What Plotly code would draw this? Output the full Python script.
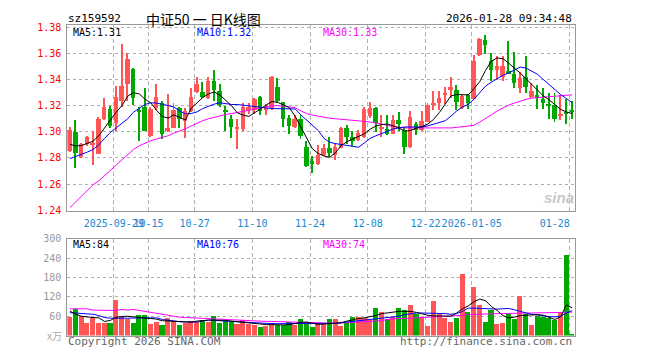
import plotly.graph_objects as go

dates = ["2025-09-17","2025-09-18","2025-09-19","2025-09-22","2025-09-23","2025-09-24","2025-09-25","2025-09-26","2025-09-29","2025-09-30",
"2025-10-09","2025-10-10","2025-10-13","2025-10-14","2025-10-15","2025-10-16","2025-10-17","2025-10-20","2025-10-21","2025-10-22","2025-10-23","2025-10-24",
"2025-10-27","2025-10-28","2025-10-29","2025-10-30","2025-10-31","2025-11-03","2025-11-04","2025-11-05","2025-11-06","2025-11-07",
"2025-11-10","2025-11-11","2025-11-12","2025-11-13","2025-11-14","2025-11-17","2025-11-18","2025-11-19","2025-11-20","2025-11-21",
"2025-11-24","2025-11-25","2025-11-26","2025-11-27","2025-11-28","2025-12-01","2025-12-02","2025-12-03","2025-12-04","2025-12-05",
"2025-12-08","2025-12-09","2025-12-10","2025-12-11","2025-12-12","2025-12-15","2025-12-16","2025-12-17","2025-12-18","2025-12-19",
"2025-12-22","2025-12-23","2025-12-24","2025-12-25","2025-12-26","2025-12-29","2025-12-30","2025-12-31",
"2026-01-05","2026-01-06","2026-01-07","2026-01-08","2026-01-09","2026-01-12","2026-01-13","2026-01-14","2026-01-15","2026-01-16",
"2026-01-19","2026-01-20","2026-01-21","2026-01-22","2026-01-23","2026-01-26","2026-01-27","2026-01-28"]

opens = [1.2848,1.2995,1.2804,1.2907,1.2902,1.2829,1.3098,1.3172,1.3062,1.3234,
 1.3364,1.3480,1.3160,1.3185,1.2963,1.3177,1.3221,1.3005,1.3030,1.3177,
 1.3079,1.3155,1.3300,1.3300,1.3258,1.3386,1.3308,1.3155,1.3093,1.3025,
 1.3017,1.3167,1.3167,1.3266,1.3167,1.3177,1.3340,1.3226,1.3103,1.3037,
 1.3098,1.2882,1.2771,1.2749,1.2823,1.2877,1.2823,1.2877,1.3030,1.2956,
 1.2938,1.2960,1.3119,1.3180,1.3025,1.3016,1.2984,1.3087,1.3012,1.2882,
 1.3060,1.3010,1.3074,1.3202,1.3221,1.3285,1.3315,1.3320,1.3177,1.3276,
 1.3251,1.3585,1.3701,1.3536,1.3467,1.3418,1.3460,1.3443,1.3332,1.3418,
 1.3261,1.3281,1.3249,1.3204,1.3200,1.3124,1.3141,1.3155]
highs = [1.3037,1.3086,1.2915,1.2962,1.3000,1.3110,1.3258,1.3196,1.3344,1.3667,
 1.3603,1.3485,1.3185,1.3332,1.3185,1.3364,1.3234,1.3283,1.3216,1.3185,
 1.3177,1.3332,1.3413,1.3381,1.3418,1.3467,1.3364,1.3192,1.3128,1.3098,
 1.3221,1.3221,1.3258,1.3270,1.3209,1.3423,1.3406,1.3229,1.3123,1.3123,
 1.3123,1.2926,1.2815,1.2897,1.2907,1.2956,1.2914,1.3037,1.3049,1.3000,
 1.3012,1.3190,1.3222,1.3185,1.3123,1.3125,1.3125,1.3145,1.3037,1.3153,
 1.3074,1.3160,1.3221,1.3308,1.3308,1.3340,1.3418,1.3357,1.3276,1.3283,
 1.3583,1.3718,1.3738,1.3603,1.3578,1.3578,1.3694,1.3610,1.3455,1.3578,
 1.3372,1.3354,1.3330,1.3293,1.3293,1.3280,1.3250,1.3234]
lows = [1.2840,1.2718,1.2798,1.2890,1.2743,1.2824,1.3086,1.3030,1.3005,1.3185,
 1.3234,1.3202,1.2926,1.3000,1.2956,1.3167,1.2946,1.2995,1.3025,1.3030,
 1.2950,1.3148,1.3295,1.3258,1.3246,1.3234,1.3185,1.3007,1.2951,1.2865,
 1.3007,1.3135,1.3135,1.3123,1.3123,1.3167,1.3221,1.3037,1.2980,1.3025,
 1.2946,1.2730,1.2680,1.2742,1.2815,1.2803,1.2784,1.2872,1.2902,1.2889,
 1.2926,1.2950,1.3100,1.2996,1.2956,1.2975,1.2980,1.3000,1.2825,1.2875,
 1.2975,1.3005,1.3069,1.3167,1.3167,1.3209,1.3258,1.3167,1.3172,1.3172,
 1.3246,1.3578,1.3590,1.3389,1.3394,1.3389,1.3443,1.3332,1.3295,1.3295,
 1.3255,1.3170,1.3170,1.3092,1.3073,1.3085,1.3060,1.3098]
closes = [1.3012,1.2835,1.2907,1.2956,1.2910,1.3098,1.3185,1.3040,1.3266,1.3344,
 1.3554,1.3258,1.3150,1.3007,1.3172,1.3266,1.2980,1.3030,1.3167,1.3098,
 1.3155,1.3266,1.3362,1.3266,1.3386,1.3315,1.3202,1.3150,1.3032,1.3030,
 1.3185,1.3185,1.3251,1.3155,1.3177,1.3418,1.3234,1.3098,1.3042,1.3093,
 1.2963,1.2737,1.2754,1.2823,1.2877,1.2833,1.2882,1.3030,1.2958,1.2926,
 1.2988,1.3170,1.3180,1.3065,1.3032,1.2984,1.3087,1.3060,1.2882,1.3114,
 1.3010,1.3080,1.3200,1.3221,1.3258,1.3290,1.3340,1.3226,1.3271,1.3221,
 1.3536,1.3709,1.3659,1.3467,1.3504,1.3499,1.3443,1.3369,1.3411,1.3340,
 1.3310,1.3256,1.3220,1.3200,1.3092,1.3127,1.3136,1.3150]

ma5 = [1.2905,1.2892,1.2895,1.2910,1.2928,1.2970,1.3030,1.3090,1.3150,1.3200,
 1.3272,1.3300,1.3290,1.3250,1.3222,1.3165,1.3118,1.3105,1.3130,1.3110,
 1.3090,1.3180,1.3225,1.3262,1.3290,1.3305,1.3280,1.3240,1.3200,1.3145,
 1.3128,1.3118,1.3150,1.3175,1.3205,1.3232,1.3225,1.3208,1.3185,1.3120,
 1.3040,1.2950,1.2870,1.2835,1.2815,1.2805,1.2840,1.2895,1.2925,1.2945,
 1.2965,1.2985,1.3020,1.3045,1.3055,1.3060,1.3045,1.3030,1.3005,1.3010,
 1.3028,1.3040,1.3060,1.3095,1.3148,1.3215,1.3275,1.3285,1.3285,1.3283,
 1.3330,1.3385,1.3470,1.3540,1.3565,1.3560,1.3525,1.3488,1.3450,1.3406,
 1.3362,1.3320,1.3275,1.3245,1.3205,1.3172,1.3152,1.3140]
ma10 = [1.2795,1.2810,1.2825,1.2845,1.2865,1.2900,1.2950,1.2995,1.3030,1.3068,
 1.3100,1.3150,1.3182,1.3210,1.3222,1.3220,1.3211,1.3202,1.3190,1.3160,
 1.3137,1.3140,1.3152,1.3178,1.3197,1.3212,1.3222,1.3215,1.3209,1.3209,
 1.3205,1.3200,1.3196,1.3190,1.3183,1.3178,1.3177,1.3177,1.3177,1.3175,
 1.3130,1.3090,1.3050,1.3010,1.2950,1.2920,1.2910,1.2903,1.2895,1.2885,
 1.2882,1.2915,1.2950,1.2970,1.2988,1.3005,1.3022,1.3030,1.3037,1.3037,
 1.3037,1.3037,1.3045,1.3060,1.3075,1.3085,1.3120,1.3160,1.3190,1.3210,
 1.3250,1.3300,1.3350,1.3380,1.3405,1.3432,1.3450,1.3470,1.3495,1.3488,
 1.3465,1.3440,1.3400,1.3360,1.3320,1.3285,1.3255,1.3222]
ma30 = [1.2420,1.2465,1.2510,1.2550,1.2595,1.2625,1.2665,1.2705,1.2745,1.2785,
 1.2830,1.2865,1.2893,1.2915,1.2932,1.2945,1.2955,1.2970,1.2990,1.3005,
 1.3023,1.3045,1.3068,1.3085,1.3100,1.3113,1.3125,1.3133,1.3140,1.3148,
 1.3155,1.3162,1.3170,1.3182,1.3192,1.3200,1.3200,1.3195,1.3190,1.3185,
 1.3160,1.3140,1.3128,1.3118,1.3110,1.3104,1.3100,1.3097,1.3094,1.3090,
 1.3085,1.3080,1.3075,1.3069,1.3060,1.3048,1.3040,1.3035,1.3030,1.3030,
 1.3028,1.3027,1.3026,1.3025,1.3025,1.3026,1.3030,1.3034,1.3038,1.3042,
 1.3050,1.3075,1.3100,1.3130,1.3160,1.3185,1.3205,1.3220,1.3235,1.3248,
 1.3258,1.3262,1.3266,1.3270,1.3273,1.3276,1.3279,1.3283]

volumes = [58,82,62,39,57,39,39,39,112,58,
 52,39,66,66,37,42,33,57,46,33,
 40,45,42,48,42,63,40,46,44,37,
 48,37,33,27,30,40,35,35,42,35,
 53,42,29,36,36,52,52,30,40,60,
 60,54,48,87,75,52,60,87,79,96,
 67,58,30,108,67,54,42,55,192,73,
 150,96,42,81,36,39,67,52,123,67,
 33,62,58,55,48,70,252,3]
vma5 = [76,66,60,57,56,55,44,47,57,59,
 60,58,55,54,53,51,46,45,43,42,
 42,42,45,47,48,48,48,47,45,43,
 42,40,36,34,34,34,33,33,34,38,
 41,42,38,35,36,38,40,40,45,50,
 53,55,58,62,68,70,74,75,75,75,
 72,67,63,61,60,60,60,70,83,92,
 105,113,108,90,78,62,55,57,62,63,
 64,65,63,56,50,58,95,86]
vma10 = [71,70,68,67,66,62,56,54,53,54,
 54,55,55,55,55,55,50,47,45,43,
 42,42,42,45,48,47,46,45,44,43,
 42,40,39,37,37,37,37,37,37,37,
 37,37,37,36,36,37,38,40,42,44,
 46,48,50,52,54,55,56,60,65,68,
 70,70,70,70,70,68,66,68,75,85,
 85,84,83,82,82,83,84,80,74,70,
 66,63,61,59,58,60,70,77]
vma30 = [83,83,83,83,79,78,78,78,78,81,
 79,81,78,75,73,68,65,62,60,57,
 56,55,54,53,52,51,50,50,49,49,
 48,46,45,45,44,44,43,42,42,41,
 41,41,40,40,39,38,38,39,40,41,
 42,43,44,45,46,50,52,53,53,54,
 54,55,56,57,57,58,59,60,63,65,
 66,66,67,67,68,68,69,69,70,70,
 70,70,71,71,71,71,72,73]

price_ticks = [1.24, 1.26, 1.28, 1.30, 1.32, 1.34, 1.36, 1.38]
volume_ticks = [60, 120, 180, 240, 300]
label_dates = ["2025-09-29","2025-10-15","2025-10-27","2025-11-10","2025-11-24",
               "2025-12-08","2025-12-22","2026-01-05","2026-01-28"]
label_texts = ["2025-09-29","10-15","10-27","11-10","11-24","12-08","12-22","2026-01-05",
               "01-28\u00a0\u00a0\u00a0\u00a0\u00a0"]

RED = "#ff5555"
GREEN = "#00a800"
W, H = 660, 360
MONO = "DejaVu Sans Mono"

def px(x):
    return x / W

def py(y):
    return 1 - y / H

idx = list(range(len(dates)))
col = [RED if c >= o else GREEN for o, c in zip(opens, closes)]
body_base = [min(o, c) for o, c in zip(opens, closes)]
body_h = [max(abs(c - o), 0.0007) for o, c in zip(opens, closes)]
wick_h = [h - l for h, l in zip(highs, lows)]

fig = go.Figure()
fig.add_trace(go.Bar(x=idx, y=wick_h, base=lows, width=0.17, marker=dict(color=col, line=dict(width=0)),
                     xaxis="x", yaxis="y", hoverinfo="skip"))
fig.add_trace(go.Bar(x=idx, y=body_h, base=body_base, width=0.78, marker=dict(color=col, line=dict(width=0)),
                     xaxis="x", yaxis="y", hoverinfo="skip"))
for arr, c in [(ma30, "#ff00ff"), (ma10, "#0000ff"), (ma5, "#000000")]:
    fig.add_trace(go.Scatter(x=idx, y=arr, mode="lines", line=dict(color=c, width=1),
                             xaxis="x", yaxis="y", hoverinfo="skip"))

fig.add_trace(go.Bar(x=idx, y=volumes, width=0.88, marker=dict(color=col, line=dict(width=0)),
                     xaxis="x2", yaxis="y2", hoverinfo="skip"))
for arr, c in [(vma30, "#ff00ff"), (vma10, "#0000ff"), (vma5, "#000000")]:
    fig.add_trace(go.Scatter(x=idx, y=arr, mode="lines", line=dict(color=c, width=1),
                             xaxis="x2", yaxis="y2", hoverinfo="skip"))

tickvals = [dates.index(d) - 0.4 for d in label_dates]
xrange = [-0.45, 87.45]
xdom = [px(70), px(597.4)]
grid_common = dict(showgrid=True, gridcolor="#b0b0b0", gridwidth=1, griddash="4px,3px",
                   showline=True, mirror=True, linecolor="#999999", linewidth=1,
                   zeroline=False, fixedrange=True)

fig.update_layout(
    width=W, height=H, autosize=False, margin=dict(l=0, r=0, t=0, b=0),
    paper_bgcolor="white", plot_bgcolor="white", showlegend=False,
    barmode="overlay", bargap=0,
    xaxis=dict(domain=xdom, anchor="y", range=xrange, tickmode="array", tickvals=tickvals,
               ticktext=label_texts, tickangle=0, ticks="", ticklabelstandoff=3,
               tickfont=dict(family=MONO, size=10, color="#1a88d0"), **grid_common),
    yaxis=dict(domain=[py(211), py(20)], anchor="x", range=[1.2398, 1.3814], tickmode="array",
               tickvals=price_ticks, ticktext=["%.2f" % v for v in price_ticks], ticks="",
               ticklabelstandoff=3, tickfont=dict(family=MONO, size=10, color="#ff0000"),
               showgrid=True, gridcolor="#b0b0b0", griddash="dot", showline=True, mirror=True,
               linecolor="#999999", linewidth=1, zeroline=False, fixedrange=True),
    xaxis2=dict(domain=xdom, anchor="y2", range=xrange, tickmode="array", tickvals=tickvals,
                showticklabels=False, ticks="", **grid_common),
    yaxis2=dict(domain=[py(340), py(240)], anchor="x2", range=[0, 300], tickmode="array",
                tickvals=volume_ticks, ticktext=[str(v) for v in volume_ticks], ticks="",
                ticklabelstandoff=3, tickfont=dict(family=MONO, size=10, color="#999999"),
                showgrid=True, gridcolor="#b0b0b0", griddash="dot", showline=True, mirror=True,
                linecolor="#999999", linewidth=1, zeroline=False, fixedrange=True),
)

def note(x, y, text, color="#000", size=10, anchor="left", family=MONO):
    fig.add_annotation(x=px(x), y=py(y), xref="paper", yref="paper", text=text, showarrow=False,
                       xanchor=anchor, yanchor="middle", font=dict(family=family, size=size, color=color))

note(69, 13, "sz159592", size=11)
note(150, 13, "中证50 一 日K线图", size=14, family="Noto Sans CJK SC")
note(597, 13, "2026-01-28 09:34:48", size=11, anchor="right")
note(74, 27, "MA5:1.31", color="#000000")
note(203, 27, "MA10:1.32", color="#0000ff")
note(334, 27, "MA30:1.33", color="#ff00ff")
note(74, 246, "MA5:84", color="#000000")
note(203, 246, "MA10:76", color="#0000ff")
note(334, 246, "MA30:74", color="#ff00ff")
note(66, 340, "x万", color="#aaaaaa", anchor="right", family="Noto Sans CJK SC")
note(69, 346, "Copyright 2026 SINA.COM", color="#666666", size=11)
note(597, 346, "http://finance.sina.com.cn", color="#666666", size=11, anchor="right")
note(581, 198, "<b><i>sina</i></b>", color="#c8c8c8", size=15, anchor="center", family="Arial")

js = ("document.body.style.margin='0';"
      "document.documentElement.style.overflow='hidden';"
      "document.body.style.overflow='hidden';")
fig.write_html("out.html", config={"displayModeBar": False, "responsive": False}, post_script=js)
